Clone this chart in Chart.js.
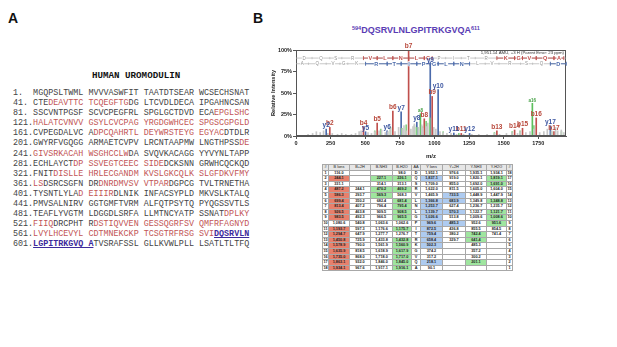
<!DOCTYPE html>
<html>
<head>
<meta charset="utf-8">
<script src="https://cdn.jsdelivr.net/npm/chart.js@4.4.0/dist/chart.umd.min.js"></script>
<style>
  body { margin: 0; width: 617px; height: 347px; background: #fff; position: relative; overflow: hidden; font-family: "Liberation Sans", Arial, sans-serif; }
  .panel { position: absolute; font-weight: bold; font-size: 14px; color: #111; }
  #seqTitle { position: absolute; left: 92px; top: 70px; font-family: "Liberation Mono", monospace; font-weight: bold; font-size: 9.2px; color: #111; }
  #seq { position: absolute; left: 13px; top: 88px; font-family: "Liberation Mono", monospace; font-size: 8.4px; line-height: 10.1px; color: #444; white-space: pre; }
  #seq .r { color: #c25555; }
  #seq .u { color: #3d2a9c; font-weight: bold; text-decoration: underline; }
  #pepTitle { position: absolute; left: 352px; top: 25px; font-weight: bold; font-size: 9px; color: #5a3cb4; white-space: nowrap; }
  #pepTitle sup { font-size: 5.5px; vertical-align: 3px; }
  #spec { position: absolute; left: 256px; top: 40px; }
  #ions { position: absolute; left: 322px; top: 164px; width: 190px; table-layout: fixed; border-collapse: collapse; font-size: 3.8px; font-weight: bold; color: #222; }
  #ions td, #ions th { border: 0.6px solid #a8a8a8; height: 4.6px; padding: 0; text-align: center; line-height: 4.6px; white-space: nowrap; overflow: hidden; }
  #ions th { background: #e6e6e6; font-weight: normal; }
  #ions td.hr { background: #e8806c; }
  #ions td.hg { background: #9fe59f; }
  #ions td.hb { background: #aecbf0; }
</style>
</head>
<body>
<div class="panel" style="left:8px;top:10px;">A</div>
<div class="panel" style="left:253px;top:10px;">B</div>
<div id="seqTitle">HUMAN UROMODULIN</div>
<div id="seq"></div>
<div id="pepTitle"><sup>594</sup>DQSRVLNLGPITRKGVQA<sup>611</sup></div>
<canvas id="spec" width="316" height="120"></canvas>
<table id="ions"></table>
<script>
// sequence lines, {} = red region, [] = peptide found
const seqStarts = [1, 41, 81, 121, 161, 201, 241, 281, 321, 361, 401, 441, 481, 521, 561, 601];
const seqLines = [
  "MGQPSLTWML MVVVASWFIT TAATDTSEAR WCSECHSNAT",
  "CTE{DEAVTTC TCQEGFTG}DG LTCVDLDECA IPGAHNCSAN",
  "SSCVNTPGSF SCVCPEGFRL SPGLGCTDVD ECA{EPGLSHC}",
  "{HALATCVNVV GSYLCVCPAG YRGDGWHCEC SPGSCGPGLD}",
  "CVPEGDALVC A{DPCQAHRTL DEYWRSTEYG EGYAC}DTDLR",
  "GWYRFVGQGG ARMAETCVPV LRCNTAAPMW LNGTHPSS{DE}",
  "{GIVSRKACAH WSGHCCLW}DA SVQVKACAGG YYVYNLTAPP",
  "ECHLAYCT{DP SSVEGTCEEC SIDE}DCKSNN GRWHCQCKQD",
  "FNIT{DISLLE HRLECGANDM KVSLGKCQLK SLGFDKVFMY}",
  "{LS}DSRCSGFN DR{DNRDMVSV VTPAR}DGPCG TVLTRNETHA",
  "TYSNTLYLA{D EIIIR}DLNIK INFACSYPLD MKVSLKTALQ",
  "PMVSALNIRV GGTGMFTVRM ALFQTPSYTQ PYQGSSVTLS",
  "TEAFLYVGTM LDGGDLSRFA LLMTNCYATP SSNAT{DPLKY}",
  "{FIIQ}DRCPHT R{DSTIQVVEN GESSQGRFSV QMFRFAGNYD}",
  "{LVYLHCEVYL CDTMNEKCKP TCSGTRFRSG SVI}[DQSRVLN]",
  "[LGPITRKGVQ A]TVSRAFSSL GLLKVWLPLL LSATLTLTFQ"
];

// fragment ions of DQSRVLNLGPITRKGVQA
const residues = ['D','Q','S','R','V','L','N','L','G','P','I','T','R','K','G','V','Q','A'];
const bIons = [116.0, 244.1, 331.1, 487.2, 586.3, 699.4, 813.4, 926.5, 983.5, 1080.6, 1193.7, 1294.7, 1450.8, 1578.9, 1635.9, 1735.0, 1863.1, 1934.1];
const bPlus2H = [null, null, null, 244.1, 293.7, 350.2, 407.2, 463.8, 492.3, 540.8, 597.3, 647.9, 725.9, 790.0, 818.5, 868.0, 932.0, 967.6];
const bNH3 = [null, 227.1, 314.1, 470.2, 569.3, 682.4, 796.4, 909.5, 966.5, 1063.6, 1176.6, 1277.7, 1433.8, 1561.9, 1618.9, 1718.0, 1846.0, 1917.1];
const bH2O = [98.0, 226.1, 313.1, 469.2, 568.3, 681.4, 795.4, 908.5, 965.5, 1062.6, 1175.7, 1276.7, 1432.8, 1560.9, 1617.9, 1717.0, 1845.0, 1916.1];
const yIons = [90.1, 218.1, 317.2, 374.2, 502.3, 658.4, 759.4, 872.5, 969.6, 1026.6, 1139.7, 1253.7, 1366.8, 1465.9, 1622.0, 1709.0, 1837.1, 1952.1];
const yPlus2H = [976.6, 919.0, 855.0, 811.5, 733.5, 683.9, 627.4, 570.3, 513.8, 485.3, 436.8, 380.2, 329.7, null, null, null, null, null];
const yNH3 = [1935.1, 1820.1, 1692.0, 1605.0, 1448.9, 1349.8, 1236.7, 1122.7, 1009.6, 952.6, 855.5, 742.4, 641.4, 485.3, 357.2, 300.2, 201.1, null];
const yH2O = [1934.1, 1819.1, 1691.0, 1604.0, 1447.9, 1348.8, 1235.7, 1121.7, 1008.6, 951.6, 854.5, 741.4, null, null, null, null, null, null];

// matched rows in the table (1-based)
const bHit = [2, 4, 5, 6, 7, 8, 9, 11, 12, 13, 14, 15, 16, 17, 18];
const bNH3Hit = [2, 4, 5];
const bH2OHit = [2, 4, 6, 7, 8, 9, 11, 13, 14, 15, 16, 17, 18];
const yHit = [2, 6, 7, 8, 9, 10, 11, 12, 13, 14, 17];
const y2HHit = [5, 6, 8, 10];
const yNH3Hit = [12, 13, 17];
const yH2OHit = [2, 3, 6, 8, 9, 10];

// ladder residues shown in colour
const bLadderOn = [5, 6, 7, 8, 9, 14, 15, 16, 17, 18];
const yLadderOn = [6, 7, 8, 9, 10, 11, 12, 18];

// spectrum peaks [m/z, % intensity]
const mzTicks = [0, 250, 500, 750, 1000, 1250, 1500, 1750];
const bPeaks = [[244.1, 10], [487.2, 11], [586.3, 15], [699.4, 29], [813.4, 100], [926.5, 20], [983.5, 46], [1193.7, 3], [1450.8, 6], [1578.9, 7], [1635.9, 9], [1735.0, 21], [1863.1, 5]];
const bLabels = ['b2', 'b4', 'b5', 'b6', 'b7', 'b8', 'b9', 'b11', 'b13', 'b14', 'b15', 'b16', 'b17'];
const yPeaks = [[218.1, 8], [502.3, 5], [658.4, 6], [759.4, 28], [872.5, 16], [969.6, 84], [1026.6, 54], [1139.7, 3.5], [1253.7, 3], [1837.1, 12]];
const yLabels = ['y2', 'y5', 'y6', 'y7', 'y8', 'y9', 'y10', 'y11', 'y12', 'y17'];
const aPeaks = [[898.5, 26], [1707.0, 38]];
const aLabels = ['a8', 'a16'];
const lossPeaks = [[569, 6], [612, 8], [682, 10], [765, 9], [796, 13], [855, 12], [870, 10], [909, 11], [940, 17], [966, 21], [1063, 5], [1176, 3], [1433, 4], [1561, 5], [1618, 6], [1718, 12], [1846, 5], [1917, 5]];
const otherPeaks = [[87, 2], [120, 3], [147, 5], [175, 4], [199, 6], [230, 3], [262, 3], [300, 2], [330, 3], [360, 2], [400, 2], [430, 3], [456, 5], [470, 6], [520, 4], [545, 3], [568, 5], [600, 6], [618, 7], [645, 4], [664, 5], [682, 9], [715, 5], [741, 10], [770, 8], [780, 12], [796, 6], [830, 8], [845, 11], [855, 14], [885, 10], [908, 13], [915, 9], [940, 11], [952, 15], [995, 10], [1010, 8], [1040, 5], [1063, 4], [1090, 3], [1120, 3], [1160, 2], [1210, 2], [1270, 2], [1320, 2], [1380, 2], [1433, 3], [1470, 2], [1520, 3], [1560, 4], [1600, 3], [1618, 5], [1660, 4], [1690, 5], [1718, 8], [1760, 4], [1790, 5], [1815, 8], [1846, 6], [1875, 10], [1890, 6], [1916, 7], [1935, 4]];
const parentMass = 1951.14;
const headerNote = '1,951.14 AMU, +3 H (Parent Error: 23 ppm)';

// --- panel A text
const seqEl = document.getElementById('seq');
seqEl.innerHTML = seqLines.map((s, i) => {
  let pre = (seqStarts[i] + '.').padEnd(4, ' ');
  let body = s.replace(/\{([^}]*)\}/g, '<span class="r">$1</span>')
              .replace(/\[([^\]]*)\]/g, '<span class="u">$1</span>');
  return pre + body;
}).join('\n');

// --- ion table
const fmt = v => v == null ? '' : v.toLocaleString('en-US', {minimumFractionDigits: 1, maximumFractionDigits: 1});
const tbl = document.getElementById('ions');
const heads = ['#', 'B Ions', 'B+2H', 'B-NH3', 'B-H2O', 'AA', 'Y Ions', 'Y+2H', 'Y-NH3', 'Y-H2O', '#'];
const widths = [6, 21, 21, 22, 19, 9, 22, 23, 21, 20, 6];
let html = '<colgroup>' + widths.map(w => `<col style="width:${w}px">`).join('') + '</colgroup>';
html += '<tr>' + heads.map(h => `<th>${h}</th>`).join('') + '</tr>';
const yDesc = yIons.slice().reverse();
for (let i = 0; i < 18; i++) {
  const r = i + 1;
  const c = (v, hit, cls) => `<td class="${hit.includes(r) ? cls : ''}">${fmt(v)}</td>`;
  html += '<tr>' +
    `<td>${r}</td>` +
    c(bIons[i], bHit, 'hr') + c(bPlus2H[i], [], '') + c(bNH3[i], bNH3Hit, 'hg') + c(bH2O[i], bH2OHit, 'hg') +
    `<td>${residues[i]}</td>` +
    c(yDesc[i], yHit, 'hb') + c(yPlus2H[i], y2HHit, 'hb') + c(yNH3[i], yNH3Hit, 'hg') + c(yH2O[i], yH2OHit, 'hg') +
    `<td>${18 - i}</td>` + '</tr>';
}
tbl.innerHTML = html;

// --- spectrum
const barDs = (pts, color) => ({
  data: pts.map(p => ({x: p[0], y: p[1]})),
  backgroundColor: color,
  barThickness: 1,
  grouped: false,
  borderWidth: 0
});

const labelFont = 'bold 6.5px "Liberation Sans", Arial, sans-serif';

const overlay = {
  id: 'overlay',
  afterDatasetsDraw(chart) {
    const {ctx, chartArea: a, scales: {x, y}} = chart;
    ctx.save();
    // frame
    ctx.strokeStyle = '#555';
    ctx.lineWidth = 1;
    ctx.strokeRect(a.left + 0.5, a.top + 0.5, a.right - a.left - 1, a.bottom - a.top - 1);

    // header note
    ctx.fillStyle = '#333';
    ctx.font = '4.3px "Liberation Sans", Arial, sans-serif';
    ctx.textAlign = 'right';
    ctx.textBaseline = 'middle';
    ctx.fillText(headerNote, a.right - 2, a.top + 2.5);

    // ladders
    const ladder = (bounds, letterAt, onList, yVal, color) => {
      const py = y.getPixelForValue(yVal);
      ctx.lineWidth = 0.7;
      ctx.strokeStyle = '#b0b0b0';
      ctx.beginPath();
      ctx.moveTo(x.getPixelForValue(0), py);
      ctx.lineTo(x.getPixelForValue(parentMass), py);
      ctx.stroke();
      for (let k = 1; k < bounds.length; k++) {
        const x0 = x.getPixelForValue(bounds[k - 1]);
        const x1 = x.getPixelForValue(bounds[k]);
        const on = onList.includes(k);
        if (on) {
          ctx.strokeStyle = color;
          ctx.lineWidth = 0.9;
          ctx.beginPath();
          ctx.moveTo(x0, py); ctx.lineTo(x1, py);
          ctx.moveTo(x0, py - 2); ctx.lineTo(x0, py + 2);
          ctx.moveTo(x1, py - 2); ctx.lineTo(x1, py + 2);
          ctx.stroke();
        } else {
          ctx.strokeStyle = '#b0b0b0';
          ctx.lineWidth = 0.6;
          ctx.beginPath();
          ctx.moveTo(x1, py - 1.2); ctx.lineTo(x1, py + 1.2);
          ctx.stroke();
        }
        const xm = (x0 + x1) / 2;
        ctx.font = (on ? 'bold 5.5px' : '4.5px') + ' "Liberation Sans", Arial, sans-serif';
        const w = ctx.measureText(letterAt(k)).width;
        ctx.fillStyle = '#fff';
        ctx.fillRect(xm - w / 2 - 0.5, py - 2.5, w + 1, 5);
        ctx.fillStyle = on ? color : '#909090';
        ctx.textAlign = 'center';
        ctx.textBaseline = 'middle';
        ctx.fillText(letterAt(k), xm, py + 0.3);
      }
    };
    ladder([0].concat(bIons), k => residues[k - 1], bLadderOn, 90.6, '#c0504d');
    ladder([0].concat(yIons), k => residues[18 - k], yLadderOn, 84, '#4a6aab');

    // peak labels
    const tag = (pts, names, color, font) => {
      ctx.fillStyle = color;
      ctx.font = font;
      ctx.textAlign = 'center';
      ctx.textBaseline = 'bottom';
      pts.forEach((p, i) => ctx.fillText(names[i], x.getPixelForValue(p[0]), y.getPixelForValue(p[1]) - 0.5));
    };
    tag(bPeaks, bLabels, '#b8473a', labelFont);
    tag(yPeaks, yLabels, '#3b55a0', labelFont);
    tag(aPeaks, aLabels, '#45a045', 'bold 4.5px "Liberation Sans", Arial, sans-serif');
    ctx.restore();
  }
};

const tickFont = {family: '"Liberation Sans", Arial, sans-serif', size: 5.5, weight: 'bold'};

new Chart(document.getElementById('spec'), {
  type: 'bar',
  data: {
    datasets: [
      barDs(otherPeaks, '#c8c8c8'),
      barDs(lossPeaks, '#84d084'),
      barDs(aPeaks, '#5cbf5c'),
      barDs(yPeaks, '#4a6aab'),
      barDs(bPeaks, '#c0504d')
    ]
  },
  options: {
    responsive: false,
    animation: false,
    layout: {padding: {top: 10, right: 6, left: 0, bottom: 0}},
    plugins: {legend: {display: false}, tooltip: {enabled: false}},
    scales: {
      x: {
        type: 'linear', min: 0, max: 1950, offset: false,
        afterBuildTicks: s => { s.ticks = mzTicks.map(v => ({value: v})); },
        ticks: {font: tickFont, color: '#222', maxRotation: 0, padding: 1, autoSkip: false, callback: v => String(v)},
        grid: {display: true, offset: false, drawOnChartArea: false, tickLength: 3, color: '#555'},
        border: {color: '#555'},
        title: {display: true, text: 'm/z', color: '#222', font: {family: '"Liberation Sans", Arial, sans-serif', size: 6, weight: 'bold'}, padding: {top: 0, bottom: 0}},
        afterFit: s => { s.height = 24; }
      },
      y: {
        min: 0, max: 100,
        ticks: {stepSize: 25, callback: v => v + '%', font: tickFont, color: '#222', padding: 1},
        grid: {display: true, drawOnChartArea: false, tickLength: 3, color: '#555'},
        border: {color: '#555'},
        title: {display: true, text: 'Relative Intensity', color: '#222', font: {family: '"Liberation Sans", Arial, sans-serif', size: 5.6, weight: 'bold'}, padding: {top: 14, bottom: 0}},
        afterFit: s => { s.width = 40; }
      }
    }
  },
  plugins: [overlay]
});
</script>
</body>
</html>
